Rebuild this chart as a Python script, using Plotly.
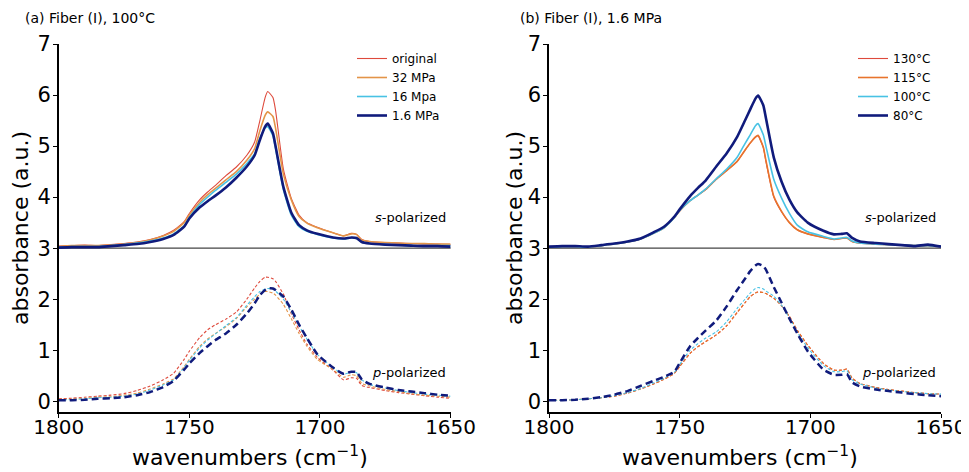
import plotly.graph_objects as go

# wavenumber grid (cm-1)
wn = [1800, 1795, 1790, 1785, 1780, 1775, 1770, 1765, 1760, 1756, 1752, 1750, 1746, 1743,
      1740, 1736, 1732, 1728, 1725, 1723, 1721, 1720, 1718, 1717, 1714, 1711, 1708, 1705,
      1701, 1695, 1691, 1688, 1686, 1684, 1681, 1675, 1670, 1665, 1660, 1655, 1650]

# (a) Fiber (I), 100 C -- s-polarized (offset by 3)
a_s_original = [3.04, 3.05, 3.06, 3.05, 3.07, 3.09, 3.12, 3.17, 3.25, 3.35, 3.52, 3.68, 3.95, 4.10,
                4.23, 4.42, 4.59, 4.82, 5.08, 5.50, 5.95, 6.07, 5.95, 5.70, 4.55, 3.98, 3.65, 3.50,
                3.41, 3.30, 3.24, 3.29, 3.27, 3.17, 3.13, 3.11, 3.10, 3.09, 3.08, 3.08, 3.07]
a_s_32 = [3.03, 3.05, 3.05, 3.05, 3.06, 3.08, 3.11, 3.16, 3.24, 3.33, 3.50, 3.65, 3.90, 4.05,
          4.17, 4.34, 4.50, 4.72, 4.95, 5.30, 5.60, 5.67, 5.58, 5.35, 4.45, 3.95, 3.62, 3.49,
          3.40, 3.30, 3.24, 3.28, 3.27, 3.16, 3.13, 3.11, 3.10, 3.09, 3.09, 3.08, 3.08]
a_s_16 = [3.02, 3.03, 3.03, 3.03, 3.05, 3.07, 3.10, 3.14, 3.20, 3.28, 3.44, 3.60, 3.86, 4.00,
          4.13, 4.29, 4.45, 4.66, 4.85, 5.15, 5.35, 5.38, 5.20, 4.95, 4.15, 3.65, 3.42, 3.33,
          3.27, 3.20, 3.18, 3.20, 3.19, 3.12, 3.09, 3.07, 3.06, 3.05, 3.05, 3.05, 3.05]
a_s_1p6 = [3.01, 3.02, 3.02, 3.02, 3.04, 3.06, 3.08, 3.12, 3.18, 3.26, 3.42, 3.58, 3.80, 3.92,
           4.03, 4.19, 4.38, 4.60, 4.82, 5.12, 5.38, 5.44, 5.25, 5.00, 4.20, 3.70, 3.45, 3.35,
           3.28, 3.21, 3.19, 3.21, 3.20, 3.12, 3.09, 3.07, 3.06, 3.05, 3.04, 3.04, 3.03]

# (a) p-polarized
a_p_original = [0.05, 0.06, 0.08, 0.10, 0.12, 0.15, 0.21, 0.30, 0.42, 0.55, 0.82, 0.98, 1.25, 1.40,
                1.50, 1.61, 1.75, 2.00, 2.22, 2.35, 2.43, 2.43, 2.40, 2.35, 2.10, 1.72, 1.40, 1.12,
                0.86, 0.61, 0.42, 0.46, 0.45, 0.31, 0.27, 0.21, 0.17, 0.14, 0.11, 0.08, 0.06]
a_p_32 = [0.04, 0.04, 0.06, 0.08, 0.09, 0.12, 0.16, 0.24, 0.34, 0.44, 0.68, 0.82, 1.08, 1.22,
          1.33, 1.46, 1.62, 1.85, 2.00, 2.10, 2.15, 2.15, 2.12, 2.08, 1.90, 1.62, 1.33, 1.08,
          0.82, 0.62, 0.47, 0.52, 0.50, 0.35, 0.30, 0.23, 0.19, 0.15, 0.12, 0.10, 0.08]
a_p_16 = [0.03, 0.03, 0.05, 0.07, 0.08, 0.10, 0.14, 0.22, 0.32, 0.42, 0.66, 0.80, 1.05, 1.20,
          1.32, 1.48, 1.64, 1.88, 2.05, 2.15, 2.20, 2.21, 2.20, 2.16, 2.00, 1.75, 1.48, 1.22,
          0.92, 0.66, 0.53, 0.57, 0.56, 0.42, 0.33, 0.26, 0.21, 0.17, 0.14, 0.12, 0.10]
a_p_1p6 = [0.02, 0.02, 0.03, 0.05, 0.06, 0.08, 0.12, 0.18, 0.28, 0.40, 0.62, 0.74, 0.95, 1.08,
           1.20, 1.33, 1.50, 1.72, 1.92, 2.08, 2.18, 2.21, 2.21, 2.18, 2.05, 1.80, 1.50, 1.24,
           0.92, 0.66, 0.54, 0.58, 0.57, 0.43, 0.34, 0.27, 0.22, 0.19, 0.16, 0.13, 0.11]

# (b) Fiber (I), 1.6 MPa -- s-polarized
b_s_130 = [3.02, 3.03, 3.03, 3.02, 3.05, 3.08, 3.12, 3.18, 3.29, 3.40, 3.60, 3.73, 3.93, 4.04,
           4.15, 4.35, 4.52, 4.70, 4.92, 5.06, 5.17, 5.20, 4.97, 4.70, 4.00, 3.71, 3.50, 3.36,
           3.28, 3.21, 3.17, 3.19, 3.20, 3.13, 3.10, 3.08, 3.07, 3.06, 3.05, 3.05, 3.04]
b_s_115 = [3.02, 3.03, 3.03, 3.02, 3.05, 3.08, 3.12, 3.18, 3.29, 3.40, 3.60, 3.73, 3.93, 4.04,
           4.15, 4.35, 4.52, 4.70, 4.92, 5.06, 5.18, 5.21, 4.98, 4.72, 4.02, 3.72, 3.50, 3.36,
           3.28, 3.21, 3.17, 3.19, 3.20, 3.13, 3.10, 3.08, 3.07, 3.06, 3.05, 3.05, 3.04]
b_s_100 = [3.02, 3.03, 3.03, 3.02, 3.05, 3.08, 3.12, 3.18, 3.29, 3.40, 3.60, 3.74, 3.93, 4.04,
           4.16, 4.36, 4.55, 4.78, 5.05, 5.22, 5.40, 5.44, 5.22, 5.00, 4.35, 3.98, 3.68, 3.45,
           3.32, 3.23, 3.18, 3.20, 3.21, 3.14, 3.10, 3.08, 3.07, 3.06, 3.05, 3.05, 3.04]
b_s_80 = [3.03, 3.04, 3.04, 3.03, 3.06, 3.09, 3.13, 3.19, 3.31, 3.42, 3.62, 3.76, 4.02, 4.18,
          4.33, 4.60, 4.86, 5.18, 5.50, 5.72, 5.93, 5.99, 5.80, 5.55, 4.78, 4.30, 3.95, 3.70,
          3.50, 3.34, 3.27, 3.28, 3.29, 3.20, 3.13, 3.10, 3.08, 3.06, 3.04, 3.07, 3.03]

# (b) p-polarized
b_p_130 = [0.02, 0.02, 0.03, 0.05, 0.07, 0.10, 0.16, 0.24, 0.34, 0.43, 0.55, 0.68, 0.94, 1.07,
           1.17, 1.30, 1.48, 1.74, 1.93, 2.05, 2.12, 2.14, 2.13, 2.11, 2.02, 1.87, 1.66, 1.39,
           1.10, 0.74, 0.61, 0.61, 0.63, 0.45, 0.35, 0.27, 0.23, 0.20, 0.17, 0.15, 0.14]
b_p_115 = [0.02, 0.02, 0.03, 0.05, 0.07, 0.10, 0.16, 0.24, 0.34, 0.43, 0.55, 0.68, 0.94, 1.07,
           1.17, 1.30, 1.48, 1.74, 1.93, 2.05, 2.12, 2.14, 2.13, 2.11, 2.02, 1.87, 1.66, 1.39,
           1.10, 0.74, 0.61, 0.61, 0.63, 0.45, 0.35, 0.27, 0.23, 0.20, 0.17, 0.15, 0.14]
b_p_100 = [0.02, 0.02, 0.03, 0.05, 0.07, 0.11, 0.17, 0.25, 0.36, 0.45, 0.57, 0.72, 1.00, 1.13,
           1.24, 1.36, 1.56, 1.82, 2.00, 2.12, 2.21, 2.23, 2.20, 2.16, 2.06, 1.88, 1.63, 1.35,
           1.05, 0.70, 0.58, 0.58, 0.60, 0.42, 0.34, 0.26, 0.22, 0.19, 0.17, 0.15, 0.14]
b_p_80 = [0.02, 0.02, 0.03, 0.05, 0.08, 0.13, 0.20, 0.30, 0.40, 0.48, 0.58, 0.75, 1.08, 1.24,
          1.39, 1.58, 1.86, 2.18, 2.40, 2.55, 2.66, 2.69, 2.65, 2.58, 2.24, 1.93, 1.62, 1.33,
          0.98, 0.62, 0.52, 0.52, 0.53, 0.37, 0.29, 0.23, 0.20, 0.17, 0.14, 0.12, 0.10]

labels_a = ["original", "32 MPa", "16 Mpa", "1.6 MPa"]
labels_b = ["130°C", "115°C", "100°C", "80°C"]

RED = "#de4a3c"
ORANGE_A = "#e39448"
ORANGE_B = "#e8742c"
CYAN = "#48c2e4"
NAVY = "#101b7c"

FONT = "DejaVu Sans"
W, H = 969, 472
OFF = 8  # the page body adds an 8px margin around the figure


def px(x):
    return (x - OFF) / W


def py(y):
    return 1 - (y - OFF) / H


fig = go.Figure()


def add_panel(xa, ya, legend, labels, s_series, p_series, colors, widths):
    for lab, s, c, w in zip(labels, s_series, colors, widths):
        fig.add_trace(go.Scatter(
            x=wn, y=s, mode="lines", name=lab, xaxis=xa, yaxis=ya, legend=legend,
            line=dict(color=c, width=w, shape="spline", smoothing=0.5)))
    for lab, p, c, w in zip(labels, p_series, colors, widths):
        thick = w > 2
        fig.add_trace(go.Scatter(
            x=wn, y=p, mode="lines", name=lab, xaxis=xa, yaxis=ya, showlegend=False,
            line=dict(color=c, width=2.5 if thick else 1.1,
                      dash="7px,4px" if thick else "3px,2px",
                      shape="spline", smoothing=0.5)))


add_panel("x", "y", "legend", labels_a,
          [a_s_original, a_s_32, a_s_16, a_s_1p6],
          [a_p_original, a_p_32, a_p_16, a_p_1p6],
          [RED, ORANGE_A, CYAN, NAVY], [1.1, 1.6, 1.6, 2.6])
add_panel("x2", "y2", "legend2", labels_b,
          [b_s_130, b_s_115, b_s_100, b_s_80],
          [b_p_130, b_p_115, b_p_100, b_p_80],
          [RED, ORANGE_B, CYAN, NAVY], [1.1, 1.6, 1.6, 2.6])

xcommon = dict(range=[1800, 1650], tickvals=[1800, 1750, 1700, 1650], showgrid=False,
               zeroline=False, showline=True, linecolor="black", linewidth=1.5,
               ticks="outside", ticklen=4, tickcolor="black", automargin=False,
               ticklabelstandoff=-8,
               tickfont=dict(family=FONT, size=20, color="black"))
ycommon = dict(range=[-0.21, 7], tickvals=list(range(8)), showgrid=False,
               zeroline=False, showline=True, linecolor="black", linewidth=1.5,
               ticks="outside", ticklen=4, tickcolor="black", automargin=False,
               ticklabelstandoff=-2,
               tickfont=dict(family=FONT, size=21, color="black"))

legend_common = dict(font=dict(family=FONT, size=12, color="black"), bgcolor="rgba(0,0,0,0)",
                     xanchor="left", yanchor="top", tracegroupgap=0, itemwidth=30)

fig.update_layout(
    width=W, height=H,
    margin=dict(l=0, r=0, t=0, b=0, pad=0, autoexpand=False),
    paper_bgcolor="white", plot_bgcolor="white",
    xaxis=dict(domain=[px(58.7), px(450.6)], anchor="y", **xcommon),
    yaxis=dict(domain=[py(412), py(44)], anchor="x", **ycommon),
    xaxis2=dict(domain=[px(549), px(941)], anchor="y2", **xcommon),
    yaxis2=dict(domain=[py(412), py(44)], anchor="x2", **ycommon),
    legend=dict(x=px(352), y=py(44), **legend_common),
    legend2=dict(x=px(853), y=py(44), **legend_common),
)

# baseline separating s- and p-polarized spectra
for xr, yr in [("x domain", "y"), ("x2 domain", "y2")]:
    fig.add_shape(type="line", xref=xr, yref=yr, x0=0, x1=1, y0=3, y1=3,
                  line=dict(color="#444444", width=1.2), layer="below")

ann = []
for xr, yr in [("x", "y"), ("x2", "y2")]:
    ann.append(dict(x=1651, y=3.6, xref=xr, yref=yr, text="<i>s</i>-polarized",
                    xanchor="right", yanchor="middle", showarrow=False,
                    font=dict(family=FONT, size=13, color="black")))
    ann.append(dict(x=1651, y=0.57, xref=xr, yref=yr, text="<i>p</i>-polarized",
                    xanchor="right", yanchor="middle", showarrow=False,
                    font=dict(family=FONT, size=13, color="black")))

for xpx, title in [(23, "(a) Fiber (I), 100°C"), (518, "(b) Fiber (I), 1.6 MPa")]:
    ann.append(dict(x=px(xpx), y=py(18), xref="paper", yref="paper", text=title,
                    xanchor="left", yanchor="middle", showarrow=False,
                    font=dict(family=FONT, size=14, color="black")))

for xpx in [20, 514]:
    ann.append(dict(x=px(xpx), y=py(228), xref="paper", yref="paper",
                    text="absorbance (a.u.)", textangle=-90, xanchor="center",
                    yanchor="middle", showarrow=False,
                    font=dict(family=FONT, size=22, color="black")))

for xpx in [250, 740]:
    ann.append(dict(x=px(xpx), y=py(456), xref="paper", yref="paper",
                    text="wavenumbers (cm<sup>−1</sup>)", xanchor="center",
                    yanchor="middle", showarrow=False,
                    font=dict(family=FONT, size=22, color="black")))

fig.update_layout(annotations=ann)

fig.write_html("out.html")
